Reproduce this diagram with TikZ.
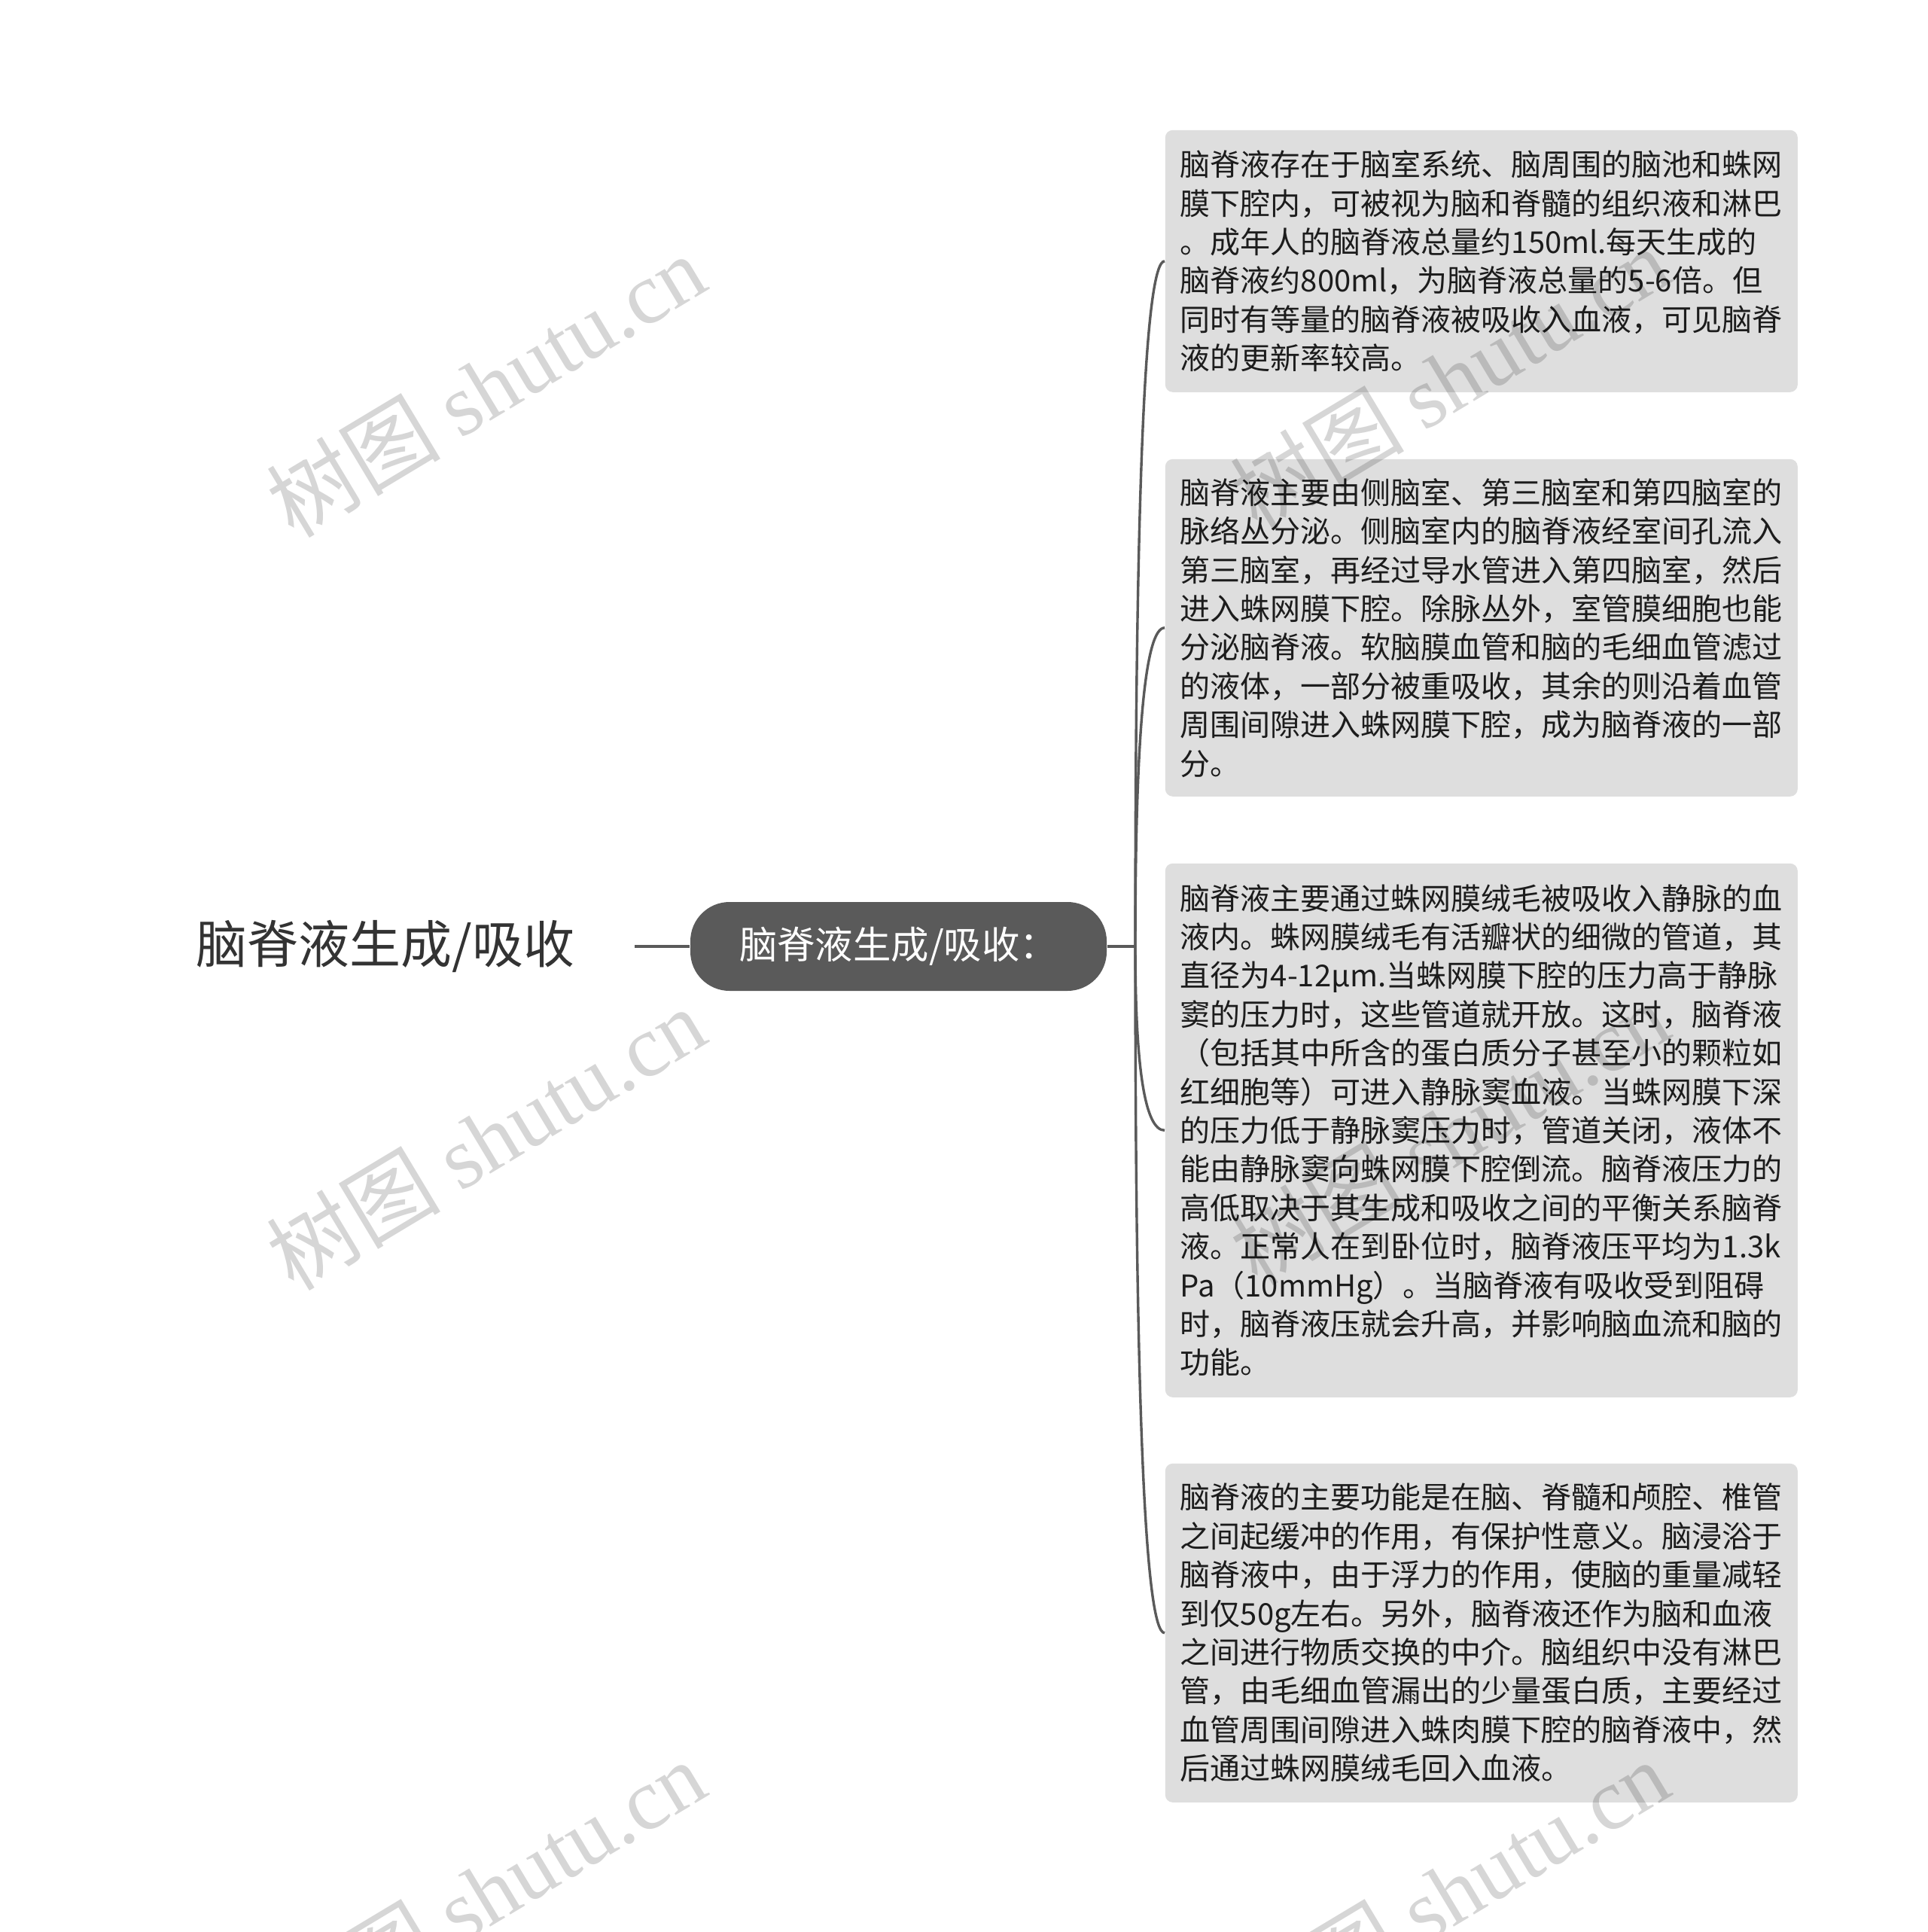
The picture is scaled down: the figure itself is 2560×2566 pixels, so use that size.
\documentclass[tikz,border=0pt]{standalone}
\usepackage{fontspec}
\setmainfont{Noto Sans CJK SC}
\newfontfamily\wmlatin{Liberation Serif}
\usetikzlibrary{calc}
\definecolor{linec}{HTML}{5A5A5A}
\definecolor{boxc}{HTML}{DEDEDE}
\definecolor{txtc}{HTML}{1C1C1C}
\definecolor{roottxt}{HTML}{333333}
\tikzset{
  infobox/.style={fill=boxc, rounded corners=2.5pt, anchor=north west, text width=200pt,
    inner xsep=5pt, inner ysep=0pt, align=left, text=txtc,
    font=\fontsize{10pt}{12.85pt}\selectfont},
  pill/.style={fill=linec, text=white, rounded corners=13pt, minimum width=138.25pt,
    minimum height=29.5pt, inner sep=0pt, font=\fontsize{12.6pt}{14pt}\selectfont},
  roottext/.style={text=roottxt, inner xsep=19.75pt, inner ysep=0pt, anchor=east,
    font=\fontsize{17pt}{20pt}\selectfont},
  conn/.style={draw=linec, line width=0.85pt},
  mainline/.style={draw=linec, line width=1.1pt},
  wmark/.style={text=black, opacity=0.16, rotate=31, inner sep=0pt,
    font=\fontsize{29pt}{32pt}\selectfont}
}
\begin{document}
\begin{tikzpicture}[x=0.25pt,y=-0.25pt]
\fill[white] (0,0) rectangle (2560,2566);
\useasboundingbox (0,0) rectangle (2560,2566);

\node[roottext] (root) at (843,1257) {脑脊液生成/吸收};
\node[pill] (mid) at (1193.5,1257) {脑脊液生成/吸收：};
\coordinate (trunk) at (1508,1257);

\node[infobox, minimum height=87pt] (b1) at (1547,172) {脑脊液存在于脑室系统、脑周围的脑池和蛛网\\膜下腔内，可被视为脑和脊髓的组织液和淋巴\\。成年人的脑脊液总量约150ml.每天生成的\\脑脊液约800ml，为脑脊液总量的5-6倍。但\\同时有等量的脑脊液被吸收入血液，可见脑脊\\液的更新率较高。};

\node[infobox, minimum height=112pt] (b2) at (1547,609) {脑脊液主要由侧脑室、第三脑室和第四脑室的\\脉络丛分泌。侧脑室内的脑脊液经室间孔流入\\第三脑室，再经过导水管进入第四脑室，然后\\进入蛛网膜下腔。除脉丛外，室管膜细胞也能\\分泌脑脊液。软脑膜血管和脑的毛细血管滤过\\的液体，一部分被重吸收，其余的则沿着血管\\周围间隙进入蛛网膜下腔，成为脑脊液的一部\\分。};

\node[infobox, minimum height=177.25pt] (b3) at (1547,1146) {脑脊液主要通过蛛网膜绒毛被吸收入静脉的血\\液内。蛛网膜绒毛有活瓣状的细微的管道，其\\直径为4-12μm.当蛛网膜下腔的压力高于静脉\\窦的压力时，这些管道就开放。这时，脑脊液\\（包括其中所含的蛋白质分子甚至小的颗粒如\\红细胞等）可进入静脉窦血液。当蛛网膜下深\\的压力低于静脉窦压力时，管道关闭，液体不\\能由静脉窦向蛛网膜下腔倒流。脑脊液压力的\\高低取决于其生成和吸收之间的平衡关系脑脊\\液。正常人在到卧位时，脑脊液压平均为1.3k\\Pa（10mmHg）。当脑脊液有吸收受到阻碍\\时，脑脊液压就会升高，并影响脑血流和脑的\\功能。};

\node[infobox, minimum height=112.5pt] (b4) at (1547,1943) {脑脊液的主要功能是在脑、脊髓和颅腔、椎管\\之间起缓冲的作用，有保护性意义。脑浸浴于\\脑脊液中，由于浮力的作用，使脑的重量减轻\\到仅50g左右。另外，脑脊液还作为脑和血液\\之间进行物质交换的中介。脑组织中没有淋巴\\管，由毛细血管漏出的少量蛋白质，主要经过\\血管周围间隙进入蛛肉膜下腔的脑脊液中，然\\后通过蛛网膜绒毛回入血液。};

\draw[mainline] (root.east) -- (mid.west);
\draw[mainline] (mid.east) -- (trunk);
\foreach \b in {b1,b2,b3,b4}{
  \draw[conn] (trunk) .. controls ($(trunk)!0.6667!(trunk|-\b.west)$) and ($(\b.west)!0.6667!(trunk|-\b.west)$) .. (\b.west);
}

\foreach \wx/\wy [count=\i] in {645/512, 645/1512, 645/2512, 1925/502, 1925/1505, 1925/2512}{
  \node[wmark] (wm\i) at (\wx,\wy) {树图 {\wmlatin shutu.cn}};
}
\end{tikzpicture}
\end{document}
